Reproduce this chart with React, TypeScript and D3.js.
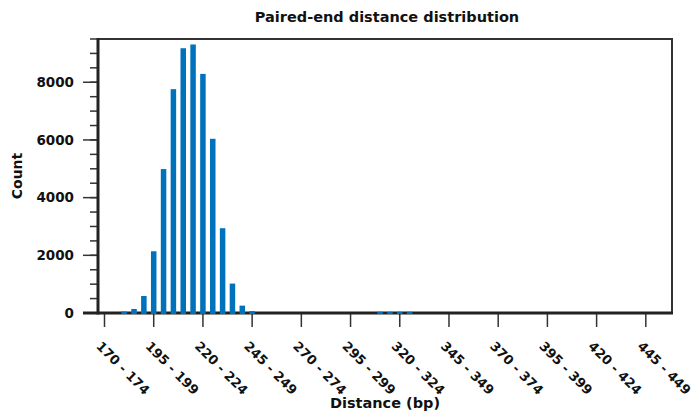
import React from "react";
import * as d3 from "d3";

const binStarts: number[] = d3.range(170, 460, 5);
const counts: number[] = [
  0, 0, 50, 140, 590, 2140, 4990, 7760, 9180, 9310, 8290, 6040, 2940, 1020, 255, 65,
  0, 0, 0, 0, 0, 0, 0, 0, 0, 0, 0, 0,
  40, 40, 40, 40,
  0, 0, 0, 0, 0, 0, 0, 0, 0, 0, 0, 0, 0, 0, 0, 0, 0, 0, 0, 0, 0, 0, 0, 0, 0, 0,
];
const yMajorTicks: number[] = [0, 2000, 4000, 6000, 8000];
const yMinorTicks: number[] = d3.range(0, 9501, 500);
const labelEvery = 5;
const title = "Paired-end distance distribution";
const xTitle = "Distance (bp)";
const yTitle = "Count";

const W = 695;
const H = 412;
const L = 98;
const R = 672;
const T = 39;
const B = 313;
const FONT = "'DejaVu Sans', sans-serif";

export default function App() {
  const n = binStarts.length;
  const x = d3.scaleLinear().domain([-0.66, n - 1 + 0.66]).range([L, R]);
  const y = d3.scaleLinear().domain([0, 9500]).range([B, T]);
  const barW = 5.5;
  const labels = binStarts.map((s) => `${s} - ${s + 4}`);
  const tickIdx = d3.range(0, n, labelEvery);

  return (
    <svg width={W} height={H} style={{ position: "absolute", left: 0, top: 0 }} fontFamily={FONT}>
      <rect x={0} y={0} width={W} height={H} fill="#fff" />
      <text x={(L + R) / 2 + 2} y={22} textAnchor="middle" fontWeight="bold" fontSize={14.5} fill="#111">
        {title}
      </text>
      {/* top & right border */}
      <path d={`M${L},${T}H${R}V${B}`} fill="none" stroke="#333" strokeWidth={2} />
      {/* y ticks */}
      {yMinorTicks.map((v) => (
        <line key={"m" + v} x1={L - 8} x2={L} y1={y(v)} y2={y(v)} stroke="#333" strokeWidth={1.5} />
      ))}
      {yMajorTicks.map((v) => (
        <g key={"M" + v}>
          <line x1={L - 15} x2={L} y1={y(v)} y2={y(v)} stroke="#333" strokeWidth={1.5} />
          <text x={L - 24} y={y(v)} dy="0.36em" textAnchor="end" fontSize={13.5} fontWeight="bold" fill="#111">
            {v}
          </text>
        </g>
      ))}
      {/* x ticks */}
      {tickIdx.map((i) => (
        <g key={"x" + i}>
          <line x1={x(i)} x2={x(i)} y1={B} y2={B + 14} stroke="#333" strokeWidth={1.5} />
          <text
            transform={`translate(${x(i) - 9},${B + 34}) rotate(45)`}
            fontSize={13}
            fontWeight="bold"
            fill="#111"
          >
            {labels[i]}
          </text>
        </g>
      ))}
      {/* axes */}
      <line x1={L} x2={L} y1={T - 1} y2={B + 1.5} stroke="#222" strokeWidth={3} />
      <line x1={L - 15} x2={R + 1} y1={B} y2={B} stroke="#222" strokeWidth={3} />
      {/* bars */}
      {counts.map((c, i) =>
        c > 0 ? (
          <rect
            key={"b" + i}
            x={x(i) - barW / 2}
            y={y(c)}
            width={barW}
            height={Math.max(0, B + 1 - y(c))}
            fill="#0072bc"
          />
        ) : null
      )}
      <text x={(L + R) / 2} y={408} textAnchor="middle" fontWeight="bold" fontSize={14.5} fill="#111">
        {xTitle}
      </text>
      <text
        transform={`translate(22,${(T + B) / 2}) rotate(-90)`}
        textAnchor="middle"
        fontWeight="bold"
        fontSize={14}
        fill="#111"
      >
        {yTitle}
      </text>
    </svg>
  );
}
